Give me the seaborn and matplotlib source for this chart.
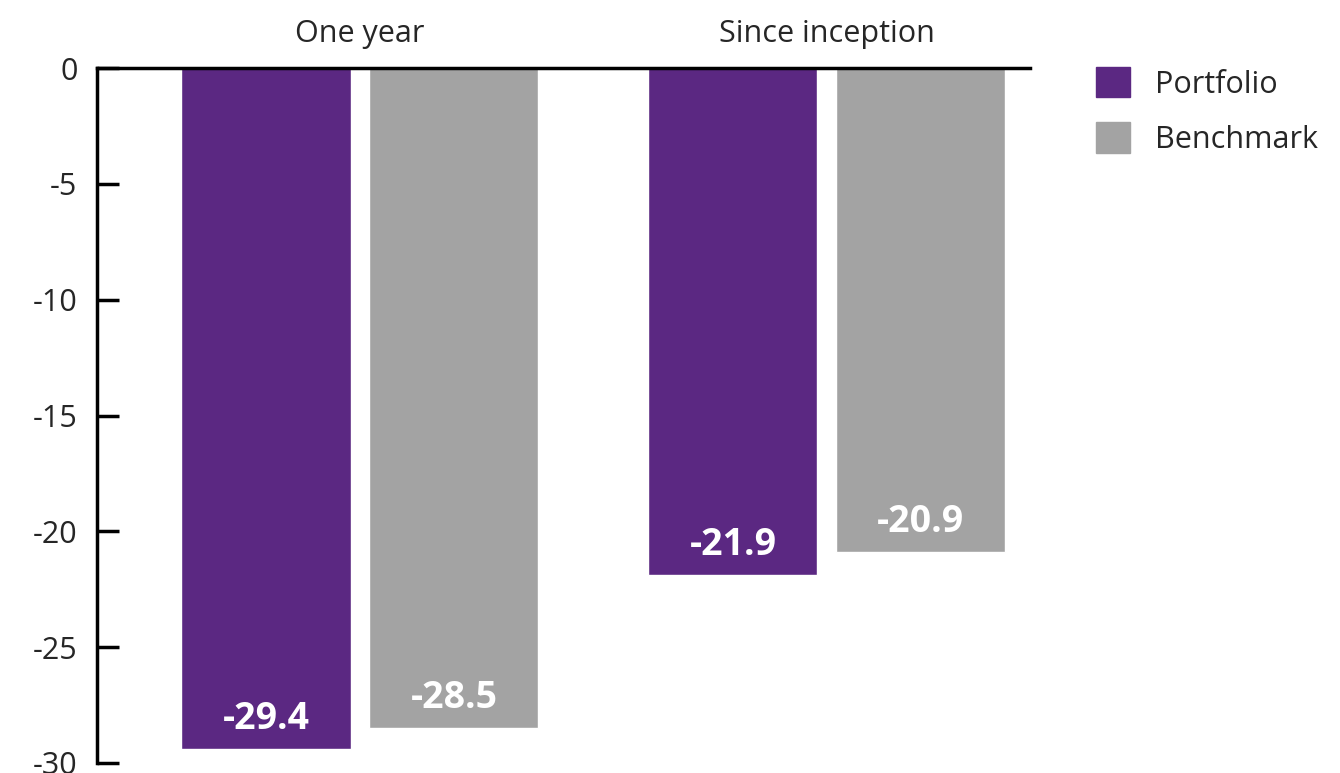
import pandas as pd
import matplotlib.pyplot as plt
import seaborn as sns

periods = ['One year', 'Since inception']
series = ['Portfolio', 'Benchmark']
portfolio = [-29.4, -21.9]
benchmark = [-28.5, -20.9]
colors = ['#5B2882', '#A3A3A3']

df = pd.DataFrame({
    'period': periods * 2,
    'series': [series[0]] * 2 + [series[1]] * 2,
    'value': portfolio + benchmark,
})

sns.set_style('white')
plt.rcParams['font.family'] = ['Open Sans', 'DejaVu Sans']
plt.rcParams['axes.unicode_minus'] = False

fig = plt.figure(figsize=(13.4, 7.73), dpi=100)
ax = fig.add_axes([97 / 1340, 1 - 763 / 773, (1030 - 97) / 1340, (763 - 68) / 773])

sns.barplot(data=df, x='period', y='value', hue='series', palette=colors,
            width=0.805, gap=0.1, saturation=1, ax=ax, legend=False)

# value labels inside the bar ends
for bar in ax.patches:
    h = bar.get_height()
    ax.annotate(f'{h:.1f}', (bar.get_x() + bar.get_width() / 2, h),
                xytext=(0, 21.5), textcoords='offset points',
                ha='center', va='center', color='white',
                fontsize=27, fontweight='bold')

ax.set_ylim(-30, 0)
ax.set_xlim(-0.563, 1.435)
ax.set_yticks(range(-30, 1, 5))
ax.set_xlabel('')
ax.set_ylabel('')

ax.xaxis.tick_top()
ax.tick_params(axis='x', length=0, pad=14, labelsize=22)
ax.tick_params(axis='y', left=True, direction='in', length=16, width=2.5,
               color='black', pad=14, labelsize=22)

for s in ['right', 'bottom']:
    ax.spines[s].set_visible(False)
for s in ['left', 'top']:
    ax.spines[s].set_linewidth(2.5)
    ax.spines[s].set_color('black')

handles = [plt.Rectangle((0, 0), 1, 1, color=c) for c in colors]
fig.legend(handles, series, loc='upper left', bbox_to_anchor=(1096 / 1340, 1 - 67 / 773),
           frameon=False, fontsize=22, handlelength=1.12, handleheight=1.15,
           handletextpad=0.8, labelspacing=0.75, borderpad=0, borderaxespad=0)

fig.savefig('out.png', dpi=100)
